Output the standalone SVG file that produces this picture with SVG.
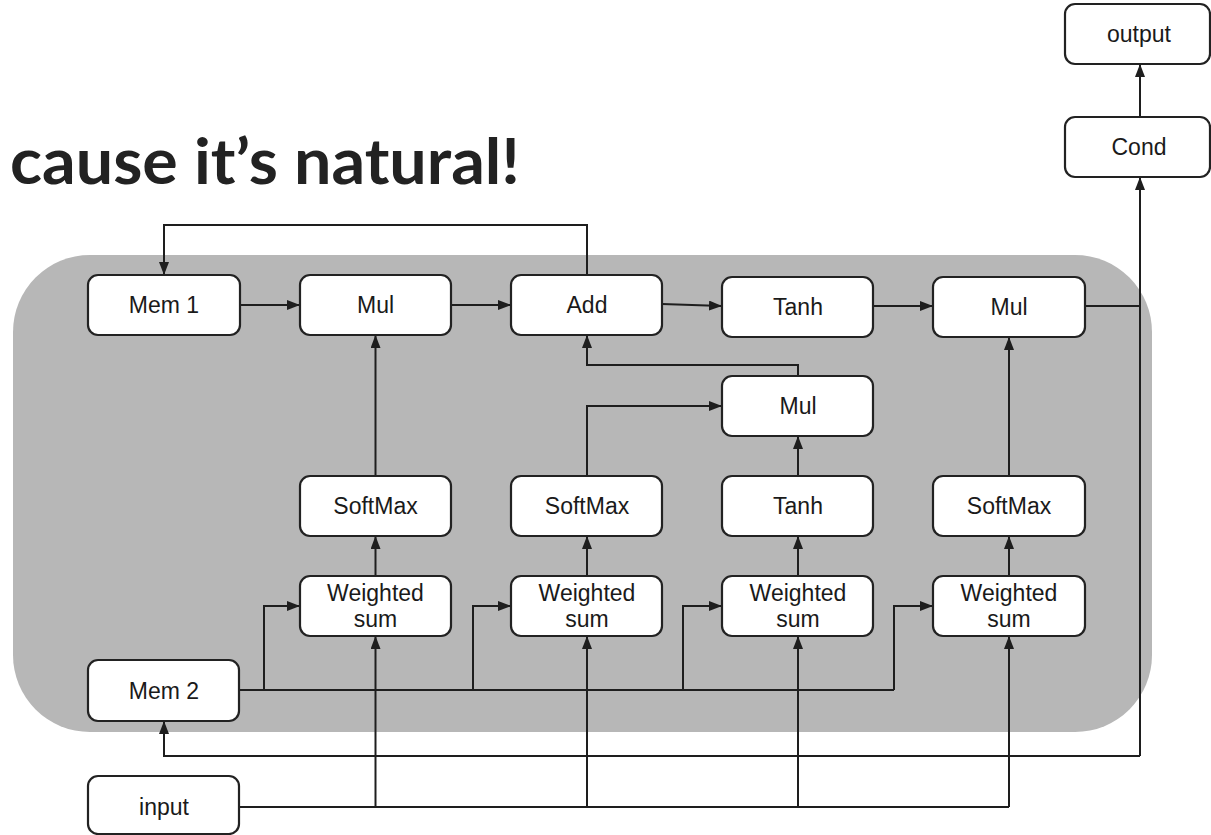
<svg xmlns="http://www.w3.org/2000/svg" width="1211" height="835" viewBox="0 0 1211 835">
  <style>
    .box { fill: #ffffff; stroke: #222222; stroke-width: 2.2; }
    .lbl { font-family: "Liberation Sans", Arial, sans-serif; font-size: 23px; fill: #1a1a1a; text-anchor: middle; }
    .wire { fill: none; stroke: #1e1e1e; stroke-width: 2; }
    .arr { marker-end: url(#head); }
    .title { font-family: Lato, "Open Sans", sans-serif; font-weight: 700; font-size: 64px; fill: #222222; }
  </style>
  <defs>
    <marker id="head" markerUnits="userSpaceOnUse" markerWidth="13" markerHeight="10" refX="13" refY="5" orient="auto">
      <path d="M0,0 L13,5 L0,10 z" fill="#1e1e1e"/>
    </marker>
  </defs>

  <rect width="1211" height="835" fill="#ffffff"/>

  <!-- heading -->
  <text class="title" x="10" y="184" textLength="510" lengthAdjust="spacingAndGlyphs">cause it’s natural!</text>

  <!-- shaded cell body -->
  <rect x="13" y="255" width="1139" height="477" rx="77" ry="77" fill="#b7b7b7"/>

  <!-- connectors -->
  <g id="connectors">
    <path class="wire arr" d="M587,275 V225 H164 V275"/>
    <path class="wire arr" d="M240,305 H300"/>
    <path class="wire arr" d="M451,305 H511"/>
    <path class="wire arr" d="M662,304 L722,306"/>
    <path class="wire arr" d="M873,306 H933"/>
    <path class="wire" d="M1085,306 H1140"/>
    <path class="wire arr" d="M1140,756 V177"/>
    <path class="wire arr" d="M1140,117 V64"/>
    <path class="wire arr" d="M1140,756 H164 V721"/>

    <path class="wire arr" d="M375.5,476 V335"/>
    <path class="wire arr" d="M375.5,576 V536"/>
    <path class="wire arr" d="M587,476 V406 H722"/>
    <path class="wire arr" d="M587,576 V536"/>
    <path class="wire arr" d="M798,376 V365 H587 V335"/>
    <path class="wire arr" d="M798,476 V436"/>
    <path class="wire arr" d="M798,576 V536"/>
    <path class="wire arr" d="M1009,476 V337"/>
    <path class="wire arr" d="M1009,576 V536"/>

    <path class="wire" d="M239,690 H894" stroke-width="2.6"/>
    <path class="wire arr" d="M264,690 V606 H300"/>
    <path class="wire arr" d="M473,690 V606 H511"/>
    <path class="wire arr" d="M683,690 V606 H722"/>
    <path class="wire arr" d="M894,690 V606 H933"/>

    <path class="wire" d="M239,807 H1009" stroke-width="2.6"/>
    <path class="wire arr" d="M1009,807 V636"/>
    <path class="wire arr" d="M375.5,807 V636"/>
    <path class="wire arr" d="M587,807 V636"/>
    <path class="wire arr" d="M798,807 V636"/>
  </g>

  <!-- nodes -->
  <g id="mem1"><rect class="box" x="88" y="275" width="152" height="60" rx="10"/><text class="lbl" x="164" y="313">Mem 1</text></g>
  <g id="mul1"><rect class="box" x="300" y="275" width="151" height="60" rx="10"/><text class="lbl" x="375.5" y="313">Mul</text></g>
  <g id="add"><rect class="box" x="511" y="275" width="151" height="60" rx="10"/><text class="lbl" x="587" y="313">Add</text></g>
  <g id="tanh1"><rect class="box" x="722" y="277" width="151" height="60" rx="10"/><text class="lbl" x="798" y="315">Tanh</text></g>
  <g id="mul3"><rect class="box" x="933" y="277" width="152" height="60" rx="10"/><text class="lbl" x="1009" y="315">Mul</text></g>
  <g id="mul2"><rect class="box" x="722" y="376" width="151" height="60" rx="10"/><text class="lbl" x="798" y="414">Mul</text></g>

  <g id="softmax1"><rect class="box" x="300" y="476" width="151" height="60" rx="10"/><text class="lbl" x="375.5" y="514">SoftMax</text></g>
  <g id="softmax2"><rect class="box" x="511" y="476" width="151" height="60" rx="10"/><text class="lbl" x="587" y="514">SoftMax</text></g>
  <g id="tanh2"><rect class="box" x="722" y="476" width="151" height="60" rx="10"/><text class="lbl" x="798" y="514">Tanh</text></g>
  <g id="softmax3"><rect class="box" x="933" y="476" width="152" height="60" rx="10"/><text class="lbl" x="1009" y="514">SoftMax</text></g>

  <g id="wsum1"><rect class="box" x="300" y="576" width="151" height="60" rx="10"/><text class="lbl" x="375.5" y="601">Weighted</text><text class="lbl" x="375.5" y="627">sum</text></g>
  <g id="wsum2"><rect class="box" x="511" y="576" width="151" height="60" rx="10"/><text class="lbl" x="587" y="601">Weighted</text><text class="lbl" x="587" y="627">sum</text></g>
  <g id="wsum3"><rect class="box" x="722" y="576" width="151" height="60" rx="10"/><text class="lbl" x="798" y="601">Weighted</text><text class="lbl" x="798" y="627">sum</text></g>
  <g id="wsum4"><rect class="box" x="933" y="576" width="152" height="60" rx="10"/><text class="lbl" x="1009" y="601">Weighted</text><text class="lbl" x="1009" y="627">sum</text></g>

  <g id="mem2"><rect class="box" x="88" y="660" width="151" height="61" rx="10"/><text class="lbl" x="164" y="699">Mem 2</text></g>
  <g id="input"><rect class="box" x="88" y="776" width="151" height="58" rx="10"/><text class="lbl" x="164" y="815">input</text></g>

  <g id="cond"><rect class="box" x="1065" y="117" width="145" height="60" rx="10"/><text class="lbl" x="1139" y="155">Cond</text></g>
  <g id="output"><rect class="box" x="1065" y="4" width="145" height="60" rx="10"/><text class="lbl" x="1139" y="42">output</text></g>
</svg>
